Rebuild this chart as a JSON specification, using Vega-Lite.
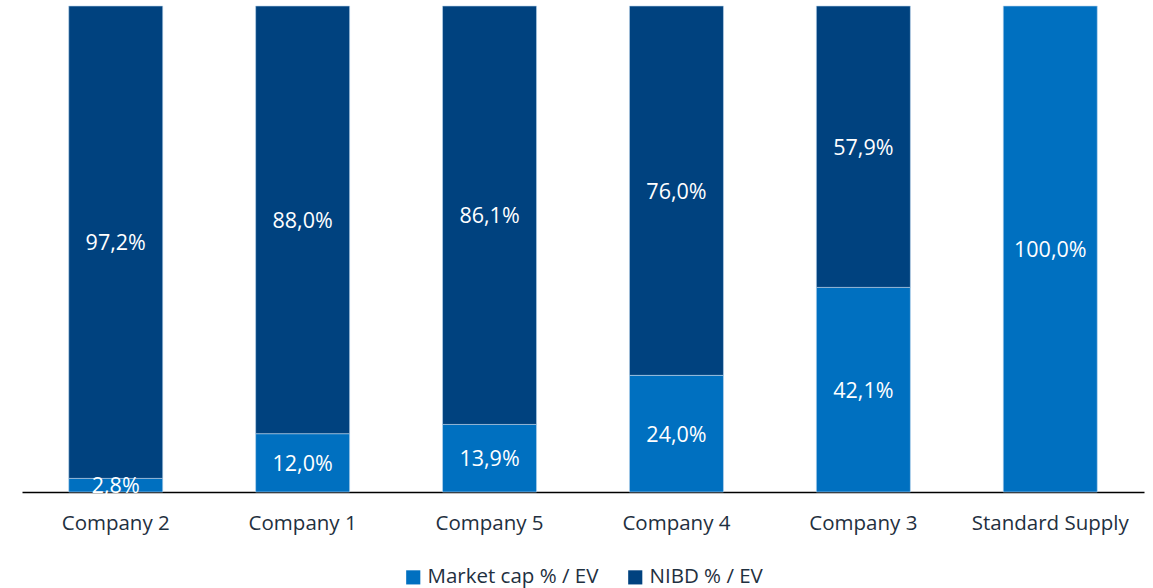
{
  "$schema": "https://vega.github.io/schema/vega-lite/v6.json",
  "width": 1122,
  "height": 486,
  "padding": {"left": 22, "top": 6, "right": 9, "bottom": 96},
  "autosize": {"type": "none"},
  "background": "white",
  "config": {
    "view": {"stroke": null},
    "font": "Open Sans",
    "locale": {"number": {"decimal": ",", "thousands": ".", "grouping": [3], "currency": ["", " kr"]}}
  },
  "data": {
    "values": [
      {"company": "Company 2", "series": "Market cap % / EV", "ord": 1, "value": 0.028},
      {"company": "Company 2", "series": "NIBD % / EV", "ord": 2, "value": 0.972},
      {"company": "Company 1", "series": "Market cap % / EV", "ord": 1, "value": 0.12},
      {"company": "Company 1", "series": "NIBD % / EV", "ord": 2, "value": 0.88},
      {"company": "Company 5", "series": "Market cap % / EV", "ord": 1, "value": 0.139},
      {"company": "Company 5", "series": "NIBD % / EV", "ord": 2, "value": 0.861},
      {"company": "Company 4", "series": "Market cap % / EV", "ord": 1, "value": 0.24},
      {"company": "Company 4", "series": "NIBD % / EV", "ord": 2, "value": 0.76},
      {"company": "Company 3", "series": "Market cap % / EV", "ord": 1, "value": 0.421},
      {"company": "Company 3", "series": "NIBD % / EV", "ord": 2, "value": 0.579},
      {"company": "Standard Supply", "series": "Market cap % / EV", "ord": 1, "value": 1.0}
    ]
  },
  "transform": [
    {"stack": "value", "groupby": ["company"], "sort": [{"field": "ord", "order": "ascending"}], "as": ["v0", "v1"]},
    {"calculate": "(datum.v0 + datum.v1) / 2", "as": "mid"}
  ],
  "encoding": {
    "x": {
      "field": "company", "type": "nominal", "sort": null,
      "scale": {"paddingInner": 0.497, "paddingOuter": 0.25},
      "axis": {
        "title": null, "labelAngle": 0, "ticks": false, "domainColor": "#000000", "domainWidth": 1.5,
        "labelFontSize": 20.5, "labelColor": "#1F3040", "labelPadding": 21, "labelFont": "Open Sans", "labelLimit": 0
      }
    }
  },
  "layer": [
    {
      "mark": {"type": "bar", "stroke": "#BDD7EE", "strokeWidth": 0.6},
      "encoding": {
        "y": {"field": "v0", "type": "quantitative", "scale": {"domain": [0, 1], "nice": false}, "axis": null},
        "y2": {"field": "v1"},
        "color": {
          "field": "series", "type": "nominal",
          "scale": {"domain": ["Market cap % / EV", "NIBD % / EV"], "range": ["#0070C0", "#00427F"]},
          "legend": {
            "title": null, "orient": "none", "direction": "horizontal", "legendX": 381, "legendY": 561,
            "symbolType": "square", "symbolSize": 200, "symbolStrokeWidth": 0, "labelLimit": 0,
            "labelFontSize": 20.5, "labelColor": "#1F3040", "labelFont": "Open Sans", "columnPadding": 26, "labelOffset": 4
          }
        }
      }
    },
    {
      "mark": {"type": "text", "color": "white", "fontSize": 21.5, "font": "Open Sans", "baseline": "middle", "dy": 2},
      "encoding": {
        "y": {"field": "mid", "type": "quantitative"},
        "text": {"field": "value", "type": "quantitative", "format": ".1%"}
      }
    }
  ]
}
